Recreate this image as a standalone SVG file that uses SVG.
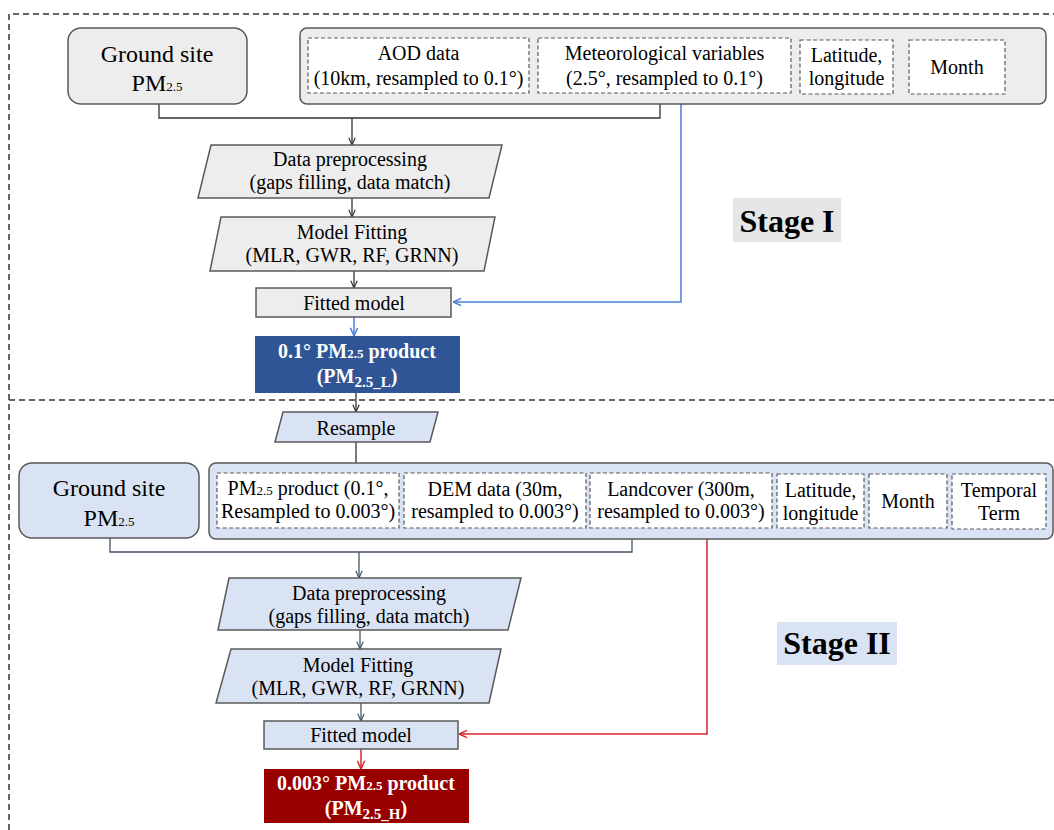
<svg xmlns="http://www.w3.org/2000/svg" width="1054" height="830" viewBox="0 0 1054 830">
<defs>
<style>
text{font-family:"Liberation Serif","Times New Roman",serif;fill:#000;text-anchor:middle}
.t20{font-size:20px}
.t24{font-size:24px}
.sub{font-size:13px}
.stage{font-size:32px;font-weight:bold}
.bw{font-size:20px;font-weight:bold;fill:#fff}
.g1{fill:#ededed;stroke:#595959;stroke-width:1.5}
.g2{fill:#dae3f3;stroke:#595959;stroke-width:1.5}
.inner{fill:#fff;stroke:#595959;stroke-width:1.2;stroke-dasharray:4 2.5}
.frame{fill:none;stroke:#333;stroke-width:1.5;stroke-dasharray:6 4}
.c1{fill:none;stroke:#333;stroke-width:1.3}
.c2{fill:none;stroke:#44546a;stroke-width:1.3}
.cb{fill:none;stroke:#4a7fdc;stroke-width:1.5}
.cr{fill:none;stroke:#d9262c;stroke-width:1.5}
</style>
<marker id="a1" viewBox="0 0 10 10" refX="10" refY="5" markerWidth="8" markerHeight="8" markerUnits="userSpaceOnUse" orient="auto"><path d="M1,1 L10,5 L1,9" fill="none" stroke="#333" stroke-width="1.5"/></marker>
<marker id="a2" viewBox="0 0 10 10" refX="10" refY="5" markerWidth="8" markerHeight="8" markerUnits="userSpaceOnUse" orient="auto"><path d="M1,1 L10,5 L1,9" fill="none" stroke="#44546a" stroke-width="1.5"/></marker>
<marker id="ab" viewBox="0 0 10 10" refX="10" refY="5" markerWidth="9" markerHeight="9" markerUnits="userSpaceOnUse" orient="auto"><path d="M1,1 L10,5 L1,9" fill="none" stroke="#4a7fdc" stroke-width="1.6"/></marker>
<marker id="ar" viewBox="0 0 10 10" refX="10" refY="5" markerWidth="9" markerHeight="9" markerUnits="userSpaceOnUse" orient="auto"><path d="M1,1 L10,5 L1,9" fill="none" stroke="#d9262c" stroke-width="1.6"/></marker>
</defs>
<rect width="1054" height="830" fill="#fff"/>

<g id="frames">
<path class="frame" d="M9,830 L9,14 L1054,14"/>
<path class="frame" d="M9,400 L1054,400"/>
</g>

<g id="connectors">
<path class="c1" d="M159,104 L159,118 L660,118 L660,104"/>
<path class="c1" d="M352,118 L352,145" marker-end="url(#a1)"/>
<path class="c1" d="M352,198 L352,217" marker-end="url(#a1)"/>
<path class="c1" d="M354,271 L354,288" marker-end="url(#a1)"/>
<path class="cb" d="M681,104 L681,302 L453,302" marker-end="url(#ab)"/>
<path class="cb" d="M354,317 L354,336" marker-end="url(#ab)"/>
<path class="c1" d="M356,393 L356,412" marker-end="url(#a1)"/>
<path class="c1" d="M356,442 L356,472" marker-end="url(#a1)"/>
<path class="c2" d="M110,538 L110,552 L632,552 L632,539"/>
<path class="c2" d="M359,552 L359,578" marker-end="url(#a2)"/>
<path class="c2" d="M360,630 L360,649" marker-end="url(#a2)"/>
<path class="c2" d="M361,703 L361,721" marker-end="url(#a2)"/>
<path class="cr" d="M707,539 L707,734 L459,734" marker-end="url(#ar)"/>
<path class="cr" d="M361,749 L361,769" marker-end="url(#ar)"/>
</g>

<g id="ground1">
<rect class="g1" x="68" y="28" width="179" height="76" rx="13"/>
<text class="t24" x="157" y="62">Ground site</text>
<text class="t24" x="157" y="91">PM<tspan class="sub">2.5</tspan></text>
</g>

<g id="inputs1">
<rect class="g1" x="300" y="28" width="746" height="76" rx="7"/>
<rect class="inner" x="308" y="38" width="221" height="55"/>
<text class="t20" x="418.5" y="60">AOD data</text>
<text class="t20" x="418.5" y="85">(10km, resampled to 0.1°)</text>
<rect class="inner" x="538" y="38" width="253" height="55"/>
<text class="t20" x="664.5" y="60">Meteorological variables</text>
<text class="t20" x="664.5" y="85">(2.5°, resampled to 0.1°)</text>
<rect class="inner" x="800" y="40" width="93" height="54"/>
<text class="t20" x="846.5" y="62">Latitude,</text>
<text class="t20" x="846.5" y="85">longitude</text>
<rect class="inner" x="909" y="40" width="96" height="54"/>
<text class="t20" x="957" y="74">Month</text>
</g>

<g id="prep1">
<path class="g1" d="M211,145 L502,145 L489,198 L198,198 Z"/>
<text class="t20" x="350" y="166">Data preprocessing</text>
<text class="t20" x="350" y="189">(gaps filling, data match)</text>
</g>

<g id="fit1">
<path class="g1" d="M221,217 L495,217 L484,271 L210,271 Z"/>
<text class="t20" x="352" y="239">Model Fitting</text>
<text class="t20" x="352" y="262">(MLR, GWR, RF, GRNN)</text>
</g>

<g id="fitted1">
<rect class="g1" x="256" y="288" width="195" height="29"/>
<text class="t20" x="354" y="310">Fitted model</text>
</g>

<g id="product1">
<rect x="255" y="336" width="205" height="57" fill="#2f5597"/>
<text class="bw" x="357" y="358">0.1° PM<tspan font-size="13px">2.5</tspan> product</text>
<text class="bw" x="357" y="383">(PM<tspan font-size="15px" dy="4">2.5_L</tspan><tspan dy="-4">)</tspan></text>
</g>

<g id="stage1">
<rect x="733" y="198" width="108" height="44" fill="#e6e6e6"/>
<text class="stage" x="787" y="232">Stage I</text>
</g>

<g id="resample">
<path class="g2" d="M283,412 L438,412 L430,442 L275,442 Z"/>
<text class="t20" x="356" y="435">Resample</text>
</g>

<g id="ground2">
<rect class="g2" x="19" y="463" width="180" height="75" rx="13"/>
<text class="t24" x="109" y="496">Ground site</text>
<text class="t24" x="109" y="526">PM<tspan class="sub">2.5</tspan></text>
</g>

<g id="inputs2">
<rect class="g2" x="209" y="463" width="844" height="76" rx="7"/>
<rect class="inner" x="217" y="473" width="182" height="55"/>
<text class="t20" x="308" y="495">PM<tspan class="sub">2.5</tspan> product (0.1°,</text>
<text class="t20" x="308" y="518">Resampled to 0.003°)</text>
<rect class="inner" x="404" y="473" width="182" height="55"/>
<text class="t20" x="495" y="496">DEM data (30m,</text>
<text class="t20" x="495" y="518">resampled to 0.003°)</text>
<rect class="inner" x="590" y="473" width="182" height="55"/>
<text class="t20" x="681" y="496">Landcover (300m,</text>
<text class="t20" x="681" y="518">resampled to 0.003°)</text>
<rect class="inner" x="777" y="474" width="87" height="54"/>
<text class="t20" x="820.5" y="497">Latitude,</text>
<text class="t20" x="820.5" y="520">longitude</text>
<rect class="inner" x="869" y="474" width="78" height="54"/>
<text class="t20" x="908" y="508">Month</text>
<rect class="inner" x="952" y="474" width="94" height="55"/>
<text class="t20" x="999" y="497">Temporal</text>
<text class="t20" x="999" y="520">Term</text>
</g>

<g id="prep2">
<path class="g2" d="M229,578 L521,578 L508,630 L218,630 Z"/>
<text class="t20" x="369" y="600">Data preprocessing</text>
<text class="t20" x="369" y="623">(gaps filling, data match)</text>
</g>

<g id="fit2">
<path class="g2" d="M231,649 L501,649 L489,703 L216,703 Z"/>
<text class="t20" x="358" y="672">Model Fitting</text>
<text class="t20" x="358" y="695">(MLR, GWR, RF, GRNN)</text>
</g>

<g id="fitted2">
<rect class="g2" x="264" y="721" width="194" height="28"/>
<text class="t20" x="361" y="742">Fitted model</text>
</g>

<g id="product2">
<rect x="264" y="769" width="205" height="54" fill="#980000"/>
<text class="bw" x="366" y="790">0.003° PM<tspan font-size="13px">2.5</tspan> product</text>
<text class="bw" x="366" y="815">(PM<tspan font-size="15px" dy="4">2.5_H</tspan><tspan dy="-4">)</tspan></text>
</g>

<g id="stage2">
<rect x="777" y="622" width="120" height="43" fill="#dae3f3"/>
<text class="stage" x="837" y="654">Stage II</text>
</g>
</svg>
